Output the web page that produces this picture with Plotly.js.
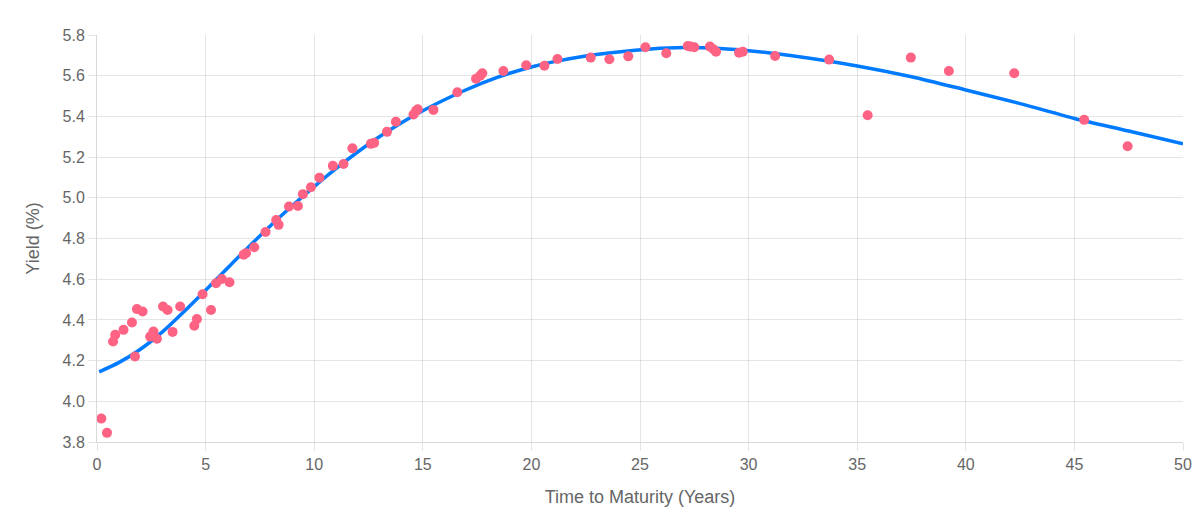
<!DOCTYPE html>
<html>
<head>
<meta charset="utf-8">
<script src="https://cdn.plot.ly/plotly-3.0.1.min.js"></script>
<style>
  html, body { margin: 0; padding: 0; background: #fff; }
  #chart { width: 1200px; height: 530px; }
</style>
</head>
<body>
<div id="chart"></div>
<script>
// Observed bond yields (maturity in years, yield in %)
const bondMaturity = [
  0.2, 0.46, 0.74, 0.84, 1.22, 1.61, 1.75, 1.84, 2.1, 2.45, 2.6, 2.76, 3.04, 3.25, 3.48, 3.83,
  4.48, 4.6, 4.86, 5.25, 5.48, 5.75, 6.1, 6.75, 6.86, 7.24, 7.76, 8.25, 8.36, 8.84, 9.25, 9.48,
  9.85, 10.24, 10.86, 11.35, 11.76, 12.61, 12.76, 13.35, 13.76, 14.57, 14.69, 14.77, 15.49,
  16.59, 17.45, 17.64, 17.74, 18.71, 19.76, 20.6, 21.2, 22.73, 23.59, 24.46, 25.25, 26.21,
  27.2, 27.33, 27.5, 28.22, 28.38, 28.5, 29.56, 29.73, 31.22, 33.71, 35.48, 37.47, 39.22,
  42.23, 45.45, 47.45
];
const bondYield = [
  3.915, 3.845, 4.294, 4.327, 4.351, 4.387, 4.22, 4.453, 4.441, 4.318, 4.343, 4.307, 4.466, 4.449, 4.341, 4.466,
  4.371, 4.404, 4.526, 4.449, 4.58, 4.601, 4.585, 4.72, 4.728, 4.757, 4.832, 4.891, 4.867, 4.957, 4.96, 5.018,
  5.052, 5.099, 5.157, 5.166, 5.243, 5.265, 5.27, 5.324, 5.374, 5.409, 5.427, 5.435, 5.432,
  5.519, 5.585, 5.6, 5.612, 5.623, 5.651, 5.649, 5.682, 5.689, 5.681, 5.695, 5.74, 5.71,
  5.746, 5.743, 5.74, 5.743, 5.73, 5.718, 5.713, 5.718, 5.697, 5.679, 5.406, 5.689, 5.623,
  5.612, 5.383, 5.253
];
// Fitted curve
const curveMaturity = [0.1, 1, 2, 3, 4, 5, 6, 7, 8, 9, 10, 11, 12, 13, 14, 15, 16, 17, 18, 19, 20, 21, 22.5, 24, 25.5, 27, 28.5, 30, 32, 35, 37.5, 40, 42.5, 45, 47.5, 50];
const curveYield = [4.145, 4.19, 4.256, 4.34, 4.44, 4.546, 4.654, 4.761, 4.864, 4.962, 5.055, 5.143, 5.225, 5.3, 5.368, 5.428, 5.482, 5.531, 5.575, 5.612, 5.643, 5.668, 5.697, 5.717, 5.731, 5.738, 5.735, 5.723, 5.698, 5.648, 5.595, 5.53, 5.463, 5.39, 5.328, 5.265];

const xTitle = 'Time to Maturity (Years)';
const yTitle = 'Yield (%)';

const traces = [
  {
    x: curveMaturity, y: curveYield, type: 'scatter', mode: 'lines',
    line: { color: '#007bff', width: 3.5, shape: 'spline', smoothing: 0.8 },
    hoverinfo: 'skip', showlegend: false
  },
  {
    x: bondMaturity, y: bondYield, type: 'scatter', mode: 'markers',
    marker: { color: '#ff6384', size: 10, line: { width: 0 } },
    hoverinfo: 'skip', showlegend: false
  }
];

const grid = 'rgba(0,0,0,0.1)';
const layout = {
  width: 1200, height: 530,
  margin: { l: 97, r: 17, t: 35, b: 88 },
  paper_bgcolor: '#fff', plot_bgcolor: '#fff',
  font: { family: 'Liberation Sans, Arial, sans-serif', size: 16, color: '#666' },
  xaxis: {
    range: [0, 50], tick0: 0, dtick: 5, showgrid: true, gridcolor: grid, gridwidth: 1,
    zeroline: false, showline: true, linecolor: 'rgba(0,0,0,0.15)', linewidth: 1,
    ticks: 'outside', ticklen: 8, tickcolor: grid, tickwidth: 1,
    tickfont: { size: 16, color: '#666' },
    title: { text: xTitle, font: { size: 18, color: '#666' }, standoff: 18 }
  },
  yaxis: {
    range: [3.8, 5.8], tick0: 3.8, dtick: 0.2, tickformat: '.1f', showgrid: true, gridcolor: grid, gridwidth: 1,
    zeroline: false, showline: true, linecolor: 'rgba(0,0,0,0.15)', linewidth: 1,
    ticks: 'outside', ticklen: 8, tickcolor: grid, tickwidth: 1,
    tickfont: { size: 16, color: '#666' },
    title: { text: yTitle, font: { size: 18, color: '#666' }, standoff: 18 }
  }
};

Plotly.newPlot('chart', traces, layout, { staticPlot: true, displayModeBar: false });
</script>
</body>
</html>
